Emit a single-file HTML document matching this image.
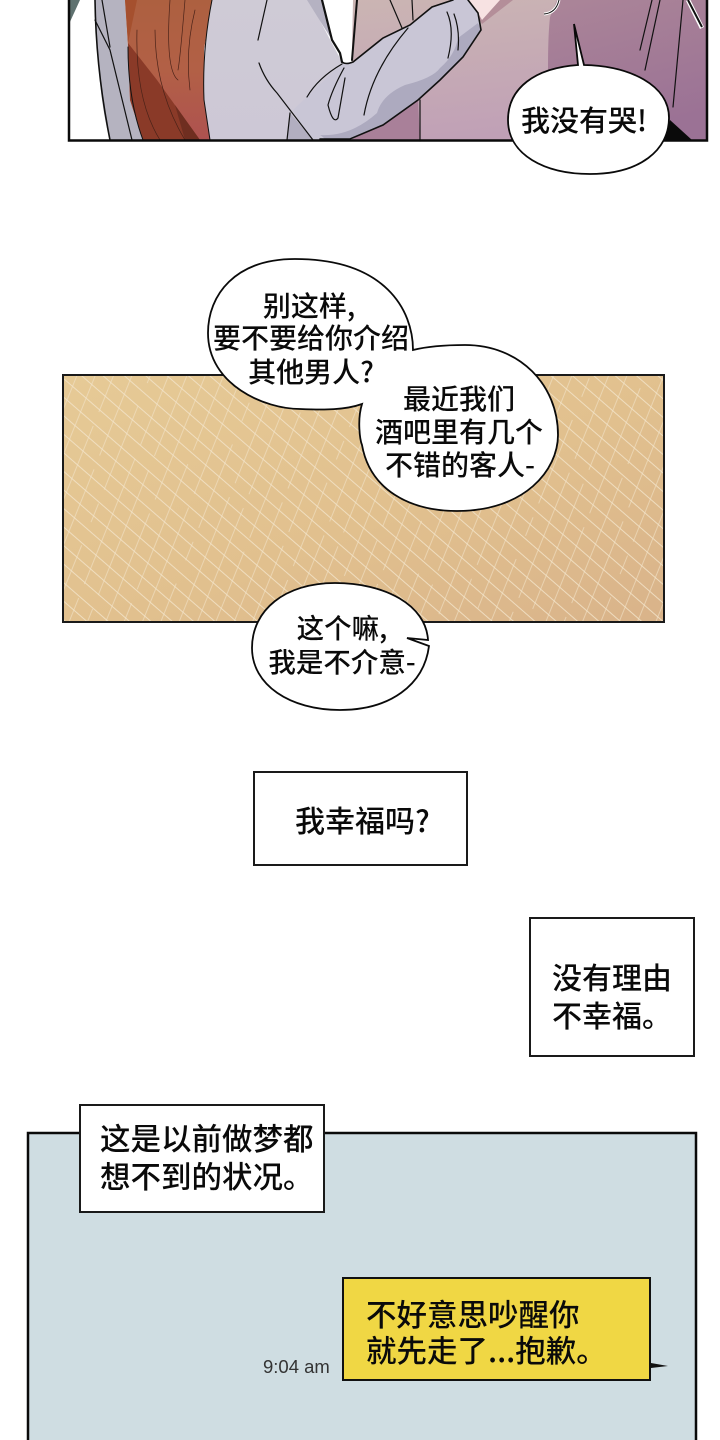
<!DOCTYPE html>
<html><head><meta charset="utf-8"><style>
html,body{margin:0;padding:0;background:#fff;width:720px;height:1440px;overflow:hidden}
svg{display:block}
text{font-family:"Noto Sans CJK SC","Liberation Sans",sans-serif;font-weight:500;fill:#0a0a0a;stroke:none}
</style></head><body>
<svg width="720" height="1440" viewBox="0 0 720 1440" xmlns="http://www.w3.org/2000/svg">
<defs>
<linearGradient id="bg" x1="0" y1="0" x2="0.3" y2="1"><stop offset="0" stop-color="#cbb5b3"/><stop offset="1" stop-color="#c0a0b6"/></linearGradient>
<linearGradient id="rt" x1="0" y1="0" x2="0.3" y2="1"><stop offset="0" stop-color="#ab8598"/><stop offset="1" stop-color="#9b7295"/></linearGradient>
<linearGradient id="tan" x1="0" y1="0" x2="1" y2="1"><stop offset="0" stop-color="#e6ca96"/><stop offset="0.55" stop-color="#e1c08e"/><stop offset="1" stop-color="#d9b38a"/></linearGradient>
<linearGradient id="hair" x1="0" y1="0" x2="0" y2="1"><stop offset="0" stop-color="#ad6040"/><stop offset="0.5" stop-color="#b26046"/><stop offset="1" stop-color="#ae5250"/></linearGradient>
<linearGradient id="body" x1="0" y1="0" x2="0" y2="1"><stop offset="0" stop-color="#cfcbd6"/><stop offset="1" stop-color="#cdc8d6"/></linearGradient>
<pattern id="h1" width="130" height="84" patternUnits="userSpaceOnUse" patternTransform="rotate(41)">
<path d="M0 6H130M0 20H130M0 34H130M0 48H130M0 62H130M0 76H130" stroke="#f2e3c8" stroke-width="1.100" fill="none" opacity=".85"/>
</pattern>
<pattern id="h2" width="150" height="102" patternUnits="userSpaceOnUse" patternTransform="rotate(-68)">
<path d="M0 8H70M85 8H150M0 25H30M45 25H150M0 42H90M105 42H150M0 59H50M65 59H150M0 76H20M35 76H125M0 93H75M90 93H150" stroke="#f2e3c8" stroke-width="1" fill="none" opacity=".6"/>
</pattern>
</defs>

<!-- top panel -->
<g>
<rect x="68" y="0" width="640" height="141" fill="#fff"/>
<path d="M69 0H80L69 24Z" fill="#5f7270"/>
<path d="M353 0H708V141H350Z" fill="url(#bg)"/>
<path d="M557 0H708V141H560Q548 100 548 67Q548 35 550 17Z" fill="url(#rt)"/>
<path d="M350 139L418 100L420 141H350Z" fill="#a98099"/>
<path d="M468 0H513L482 24Z" fill="#b48e99"/>
<path d="M468 0H500L482 20L478 13Z" fill="#f7e2e2"/>
<path d="M670 120L692 140H665Z" fill="#0a0a0a"/>
<path d="M95 0H125L128 47L130 100L143 140H110Q98 100 95 0Z" fill="#b5b3c0"/>
<path d="M125 0H212L204 50L204 100L210 140H143L130 100L128 47Z" fill="url(#hair)"/>
<path d="M125 0H137L128 43Z" fill="#a5502e"/>
<path d="M128 43L157 80L200 140H143L130 100Z" fill="#8a3a28"/>
<path d="M175 105L200 140H185Z" fill="#6f2e20"/>
<path d="M212 0H309L342 62L313 140H210L204 100L204 50Z" fill="url(#body)"/>
<path d="M307 0H322L332 40L340 53Z" fill="#b5b2c2"/>
<path d="M342 63L353 62L383 38L410 25L432 7L453 0H468L478 13L481 30L463 57L440 80L418 100L383 125L350 140H310L293 110L307 97Z" fill="#c9c6d6"/>
<path d="M290 113L313 140H287Z" fill="#b2aec0"/>
<path d="M478 23L481 30L463 57L440 80L418 100L383 125L350 139H325Q322 136 320 135Q350 137 377 113Q382 95 405 85Q433 78 440 68Q455 55 458 38Z" fill="#adaabf"/>
<g fill="none" stroke="#111" stroke-width="1.200" stroke-linecap="round">
<path d="M95 0Q96 70 110 140" stroke-width="1.600"/>
<path d="M95 20L110 50L132 140M102 0L110 47"/>
<path d="M128 47Q128 100 143 140M212 0Q202 50 204 100L210 140" stroke-width="1"/>
<path d="M137 30Q135 100 160 140M155 30Q155 90 185 140M170 0Q165 70 178 80M185 0Q180 60 178 70M195 10Q185 50 190 90" stroke-width=".7" stroke="#4a2218"/>
<path d="M267 0L258 40M259 63Q265 80 277 93L313 140M290 113L287 140"/>
<path d="M322 0L332 40L340 53L342 62" stroke-width="2.200"/>
<path d="M357 0L352 60" stroke-width="2"/>
<path d="M342 62Q346 65 353 62L383 38L410 25L432 7L453 0M468 0L478 13L481 30L463 57L440 80L418 100L383 125L350 139H320" stroke-width="1.600"/>
<path d="M342 64Q318 78 307 97M344 68Q332 90 328 105Q333 125 338 118L345 78M408 28Q372 70 364 115M447 12Q455 30 448 58M454 14Q460 30 458 50"/>
<path d="M390 0L402 28M412 0L413 20"/>
<path d="M420 100V141M660 0L645 70M652 0L640 50M683 0L673 107"/>
</g>
<path d="M688 0L702 28" stroke="#fff" stroke-width="4.500"/><path d="M688 0L702 27" stroke="#111" stroke-width="2"/>
<path d="M559 0Q556 13 544 14" stroke="#fff" stroke-width="3" fill="none"/><path d="M559 0Q556 13 544 14" stroke="#111" stroke-width="1" fill="none"/>
<path d="M69 0V140.500H707V0" fill="none" stroke="#0a0a0a" stroke-width="2.500"/>
</g>
<path d="M574 24L578 65C535 68 508 88 508 120C508 155 545 174 590 174C640 174 669 150 669 118C669 85 630 66 584 65Z" fill="#fff" stroke="#0a0a0a" stroke-width="1.800"/>
<text x="521" y="131" font-size="29">我没有哭!</text>

<!-- tan panel -->
<rect x="63" y="375" width="601" height="247" fill="url(#tan)"/>
<rect x="63" y="375" width="601" height="247" fill="url(#h1)"/>
<rect x="63" y="375" width="601" height="247" fill="url(#h2)"/>
<rect x="63" y="375" width="601" height="247" fill="none" stroke="#1a1a1a" stroke-width="2"/>

<path d="M413 350C413 310 385 259 295 259C235 259 208 295 208 333C208 385 265 409 300 409C325 410 345 410 362 404C357 420 360 440 362 445C370 490 410 511 457 511C525 511 558 470 558 435C558 385 520 345 465 345C440 345 425 347 413 350Z" fill="#fff" stroke="#0a0a0a" stroke-width="1.800"/>
<g font-size="28" text-anchor="middle">
<text x="309" y="316">别这样,</text>
<text x="311" y="348">要不要给你介绍</text>
<text x="311" y="382">其他男人?</text>
<text x="459" y="409">最近我们</text>
<text x="459" y="442">酒吧里有几个</text>
<text x="460" y="475">不错的客人-</text>
</g>

<path d="M407 638L428 640C426 605 385 583 335 583C285 583 252 610 252 648C252 685 290 710 340 710C390 710 424 685 429 646Z" fill="#fff" stroke="#0a0a0a" stroke-width="1.800"/>
<g font-size="27.500" text-anchor="middle">
<text x="342" y="638">这个嘛,</text>
<text x="342" y="672">我是不介意-</text>
</g>

<rect x="254" y="772" width="213" height="93" fill="#fff" stroke="#1a1a1a" stroke-width="2"/>
<text x="295" y="832" font-size="30">我幸福吗?</text>

<rect x="530" y="918" width="164" height="138" fill="#fff" stroke="#1a1a1a" stroke-width="2"/>
<text x="552" y="989" font-size="30">没有理由</text>
<text x="552" y="1027" font-size="30">不幸福。</text>

<!-- blue panel -->
<rect x="28" y="1133" width="668" height="320" fill="#cfdde2" stroke="#0a0a0a" stroke-width="2.500"/>
<rect x="80" y="1105" width="244" height="107" fill="#fff" stroke="#1a1a1a" stroke-width="2"/>
<text x="100" y="1150" font-size="30.500">这是以前做梦都</text>
<text x="100" y="1188" font-size="30.500">想不到的状况。</text>

<rect x="343" y="1278" width="307" height="102" fill="#f0d744" stroke="#111" stroke-width="2"/>
<path d="M651 1363L668 1366L651 1368Z" fill="#111"/>
<text x="366" y="1326" font-size="30.500">不好意思吵醒你</text>
<text x="366" y="1362" font-size="30.500">就先走了...抱歉。</text>
<text x="263" y="1373" font-size="18.500" style="font-family:'Liberation Sans',sans-serif;font-weight:400;fill:#333;stroke:none">9:04 am</text>
</svg>
</body></html>
